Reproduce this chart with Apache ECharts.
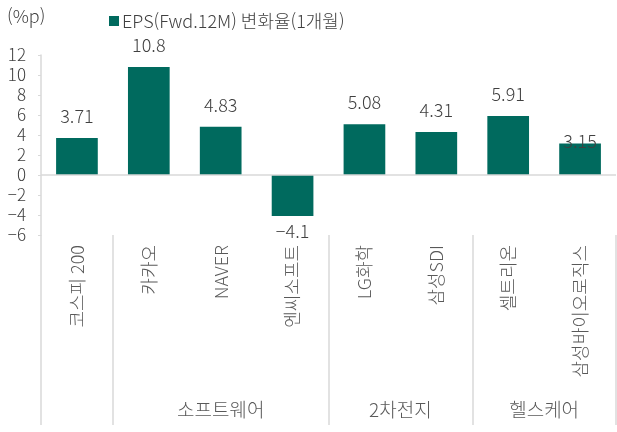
<!DOCTYPE html>
<html lang="ko">
<head>
    <meta charset="UTF-8">
    <title>EPS 변화율</title>
    <style>
        body { margin: 0; background: #fff; }
        #chart { width: 617px; height: 432px; }
    </style>
    <script src="https://cdn.jsdelivr.net/npm/echarts@6/dist/echarts.min.js"></script>
</head>
<body>
    <div id="chart"></div>
    <script>
        // 데이터
        const categories = ['코스피 200', '카카오', 'NAVER', '엔씨소프트', 'LG화학', '삼성SDI', '셀트리온', '삼성바이오로직스'];
        const epsChange = [3.71, 10.8, 4.83, -4.1, 5.08, 4.31, 5.91, 3.15];
        const valueLabels = ['3.71', '10.8', '4.83', '-4.1', '5.08', '4.31', '5.91', '3.15'];
        const groups = [
            { name: '소프트웨어', from: 1, to: 3 },
            { name: '2차전지', from: 4, to: 5 },
            { name: '헬스케어', from: 6, to: 7 }
        ];
        const boundaryIdx = [0, 1, 4, 6, 8];

        const font = '"Noto Sans CJK KR", "Noto Sans", sans-serif';
        const barColor = '#006a5e';
        const lineColor = '#d9d9d9';
        const textColor = '#404040';

        const chart = echarts.init(document.getElementById('chart'));

        const option = {
            animation: false,
            textStyle: { fontFamily: font, fontWeight: 300 },
            grid: { left: 41, right: 1, top: 55, bottom: 197, containLabel: false },
            legend: {
                data: ['EPS(Fwd.12M) 변화율(1개월)'],
                left: 104,
                top: 7,
                itemWidth: 10,
                itemHeight: 10,
                itemGap: 4,
                icon: 'rect',
                textStyle: { fontFamily: font, fontWeight: 300, fontSize: 18, color: textColor, padding: [0, 0, 0, -2] }
            },
            xAxis: {
                type: 'category',
                data: categories,
                position: 'bottom',
                axisLine: { show: false, onZero: false },
                axisTick: {
                    show: true,
                    length: 190,
                    interval: (i) => boundaryIdx.includes(i),
                    lineStyle: { color: lineColor, width: 1.5 }
                },
                axisLabel: {
                    rotate: 90,
                    margin: 10,
                    fontFamily: font,
                    fontWeight: 300,
                    fontSize: 18,
                    color: '#595959',
                    interval: 0
                }
            },
            yAxis: {
                type: 'value',
                min: -6,
                max: 12,
                interval: 2,
                axisLine: { show: true, lineStyle: { color: lineColor, width: 1.5 } },
                axisTick: { show: true, length: 3, lineStyle: { color: lineColor } },
                splitLine: { show: false },
                axisLabel: {
                    margin: 15,
                    fontFamily: font,
                    fontWeight: 300,
                    fontSize: 17,
                    color: textColor,
                    formatter: (v) => String(v).replace('-', '−')
                }
            },
            series: [{
                name: 'EPS(Fwd.12M) 변화율(1개월)',
                type: 'bar',
                barWidth: '58%',
                itemStyle: { color: barColor },
                label: {
                    show: true,
                    position: 'top',
                    distance: 13,
                    fontFamily: font,
                    fontWeight: 300,
                    fontSize: 18,
                    color: textColor,
                    formatter: (p) => valueLabels[p.dataIndex].replace('-', '−')
                },
                markLine: {
                    silent: true,
                    symbol: 'none',
                    label: { show: false },
                    lineStyle: { color: lineColor, type: 'solid', width: 1.5 },
                    data: [{ yAxis: 0 }]
                }
            }]
        };

        // 음수 막대는 라벨을 아래로, 마지막 라벨은 원본처럼 막대에 붙여서
        option.series[0].data = epsChange.map((v, i) => {
            if (v < 0) return { value: v, label: { position: 'bottom', distance: 6 } };
            if (i === categories.length - 1) return { value: v, label: { distance: 0, offset: [0, 7] } };
            return v;
        });

        chart.setOption(option);

        // 그룹 라벨과 (%p) 단위
        const graphics = [{
            type: 'text',
            left: 7,
            top: 7,
            style: { text: '(%p)', font: '300 18px ' + font, fill: textColor }
        }];
        groups.forEach((g) => {
            const x = (chart.convertToPixel({ xAxisIndex: 0 }, g.from) +
                       chart.convertToPixel({ xAxisIndex: 0 }, g.to)) / 2;
            graphics.push({
                type: 'text',
                x: x,
                y: 410,
                style: {
                    text: g.name,
                    font: '300 19px ' + font,
                    fill: '#595959',
                    align: 'center',
                    verticalAlign: 'middle'
                }
            });
        });
        chart.setOption({ graphic: graphics });
    </script>
</body>
</html>
